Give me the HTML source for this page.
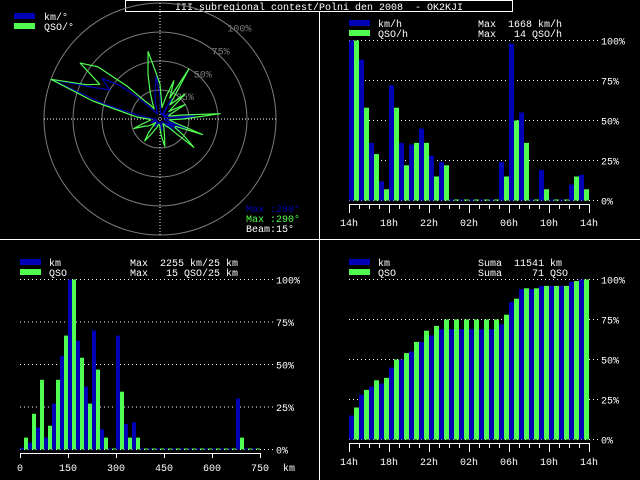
<!DOCTYPE html>
<html><head><meta charset="utf-8"><style>
html,body{margin:0;padding:0;background:#000;}
svg{display:block;font-family:"Liberation Mono",monospace;font-size:10px;}
text{white-space:pre;}
</style></head><body>
<svg id="s" width="640" height="480" viewBox="0 0 640 480">
<rect x="0" y="0" width="640" height="480" fill="#000"/>
<line x1="319.5" y1="11" x2="319.5" y2="480" stroke="#fff"/>
<line x1="0" y1="239.5" x2="640" y2="239.5" stroke="#fff"/>
<rect x="125.5" y="0.5" width="387" height="11" fill="#000" stroke="#fff"/>
<text x="319" y="10" fill="#fff" text-anchor="middle">III.subregional contest/Polni den 2008  - OK2KJI</text>
<g id="polar"></g>
<g id="hourly"></g>
<g id="dist"></g>
<g id="cumul"></g>
</svg>
<script>
const BLUE='#0000b4', GREEN='#50ff50';
// polar data, 5 degree steps, percent of max
const polarKm=[20,5,4,4,5,5,20,5,4,5,4,4,10,4,4,5,8,30,15,5,4,6,24,8,20,6,15,4,3,3,3,4,5,6,10,5,3,3,3,3,4,4,5,8,5,3,3,3,5,6,8,5,3,3,4,8,20,50,100,65,50,61,45,25,12,8,5,5,8,15,25,37];
const polarQso=[30,15,10,20,35,20,50,15,20,30,10,15,25,10,8,10,20,52,20,8,10,15,39,15,15,25,38,10,8,5,5,8,10,15,24,15,8,5,5,5,8,10,15,23,15,8,5,8,12,15,24,15,10,8,10,20,30,60,100,70,60,84,70,40,20,15,10,15,25,40,59,40];
const polarRings=[25,50,75,100];
// hourly
const hourLabels=['14h','18h','22h','02h','06h','10h','14h'];
const hourKm=[100,88,36,12,72,36,35,45,28,24,0,0,0,0,0,24,98,55,0,19,0,0,10,16];
const hourQso=[100,58,29,7,58,22,36,36,15,22,0,0,0,0,0,15,50,36,0,7,0,0,15,7];
// distance
const distLabels=['0','150','300','450','600','750'];
const distKm=[1,4,13,7,27,55,100,64,37,70,12,0,67,15,16,0,0,0,0,0,0,0,0,0,0,0,0,30,0,0];
const distQso=[7,21,41,14,41,67,100,54,27,47,7,0,34,7,7,0,0,0,0,0,0,0,0,0,0,0,0,7,0,0];
// cumulative
const cumKm=[15,28,33,35,45,50,55,61,65,69,69,69,69,69,69,72,86,94,94,96,96,96,98.5,100];
const cumQso=[20,31,37,38.5,50,54,61,68,71,75,75,75,75,75,75,78,88,94.5,94.5,96,96,96,99,100];
const pctLabels=['0%','25%','50%','75%','100%'];

const NS='http://www.w3.org/2000/svg';
function mk(p,tag,at,txt){const e=document.createElementNS(NS,tag);for(const k in at)e.setAttribute(k,at[k]);if(txt!==undefined)e.textContent=txt;p.appendChild(e);return e;}

// ---- polar
(function(){
const g=document.getElementById('polar');const cx=160,cy=119,R=116;
const r=v=>v/100*R;
polarRings.forEach((p,i)=>{const c=mk(g,'circle',{cx:cx,cy:cy,r:r(p),fill:'none',stroke:'#7c7c7c'});


const a=-52*Math.PI/180;const t=mk(g,'text',{x:cx+r(p)*Math.cos(a)+(p==100?-4:-2),y:cy+r(p)*Math.sin(a)+4,fill:'#7c7c7c'},p+'%');

});
const h=mk(g,'line',{x1:44,y1:cy,x2:276,y2:cy,stroke:'#fff','stroke-dasharray':'1,2'});


const v=mk(g,'line',{x1:cx,y1:3,x2:cx,y2:235,stroke:'#fff','stroke-dasharray':'1,2'});


function poly(arr,col,name){const pts=arr.map((val,i)=>{const a=i*5*Math.PI/180;return (cx+r(val)*Math.sin(a)).toFixed(1)+','+(cy-r(val)*Math.cos(a)).toFixed(1);}).join(' ');
const p=mk(g,'polygon',{points:pts,fill:'none',stroke:col,'stroke-width':1.2,'stroke-linejoin':'round'});

}
poly(polarKm,BLUE,'km-per-degree-series');poly(polarQso,GREEN,'qso-per-degree-series');
[[BLUE,'km/°',13],[GREEN,'QSO/°',23]].forEach(([c,t,y])=>{const rr=mk(g,'rect',{x:14,y:y,width:21,height:6,fill:c});


const tt=mk(g,'text',{x:44,y:y+7,fill:'#fff'},t);

});
[[BLUE,'Max :290°',212],[GREEN,'Max :290°',222],['#fff','Beam:15°',232]].forEach(([c,t,y])=>{const tt=mk(g,'text',{x:246,y:y,fill:c},t);

});
})();

// ---- bar chart helper
function barChart(g,o){
const y=v=>o.base-(v/100)*(o.base-o.top);
pctLabels.forEach((l,i)=>{const yy=y(i*25)+0.5;
const ln=mk(g,'line',{x1:o.x0,y1:yy,x2:o.gridEnd,y2:yy,stroke:'#fff','stroke-dasharray':'1,3'});


const t=mk(g,'text',{x:o.gridEnd+3,y:yy+4,fill:'#fff'},l);

});
const n=o.a.length,w=o.slot;
o.a.forEach((v,i)=>{const hh=Math.max(1,(v/100)*(o.base-o.top));
const r=mk(g,'rect',{x:o.x0+i*w,y:o.base-hh+0.5,width:w/2,height:hh,fill:BLUE});

});
o.b.forEach((v,i)=>{const hh=Math.max(1,(v/100)*(o.base-o.top));
const r=mk(g,'rect',{x:o.x0+i*w+w/2,y:o.base-hh+0.5,width:w/2,height:hh,fill:GREEN});

});
const ax=mk(g,'line',{x1:o.x0,y1:o.axisY+0.5,x2:o.x0+n*w,y2:o.axisY+0.5,stroke:'#fff'});


for(let i=0;i<=n;i+=o.minorEvery){const major=i%o.majorEvery===0;const xx=o.x0+i*w+0.5;
const tk=mk(g,'line',{x1:xx,y1:o.axisY,x2:xx,y2:o.axisY+(major?o.majLen:5),stroke:'#fff'});

}
o.labels.forEach((l,i)=>{const xx=o.x0+i*o.majorEvery*w;
const t=mk(g,'text',{x:xx,y:o.axisY+o.labDy,fill:'#fff','text-anchor':'middle'},l);

});
[[BLUE,o.l1,o.r1,o.legY],[GREEN,o.l2,o.r2,o.legY+10]].forEach(([c,t,rt,yy])=>{
const rr=mk(g,'rect',{x:o.x0,y:yy,width:21,height:6,fill:c});


const tt=mk(g,'text',{x:o.x0+29,y:yy+7,fill:'#fff'},t);


const mt=mk(g,'text',{x:o.statX,y:yy+7,fill:'#fff'},rt);

});
}
barChart(document.getElementById('hourly'),{x0:349,slot:10,base:200,top:40,gridEnd:598,axisY:204,minorEvery:1,majorEvery:4,majLen:9,labDy:22,labels:hourLabels,a:hourKm,b:hourQso,legY:20,statX:478,l1:'km/h',l2:'QSO/h',r1:'Max  1668 km/h',r2:'Max   14 QSO/h'});
barChart(document.getElementById('dist'),{x0:20,slot:8,base:449,top:279,gridEnd:273,axisY:453,minorEvery:6,majorEvery:6,majLen:5,labDy:18,labels:distLabels,a:distKm,b:distQso,legY:259,statX:130,l1:'km',l2:'QSO',r1:'Max  2255 km/25 km',r2:'Max   15 QSO/25 km'});
barChart(document.getElementById('cumul'),{x0:349,slot:10,base:439,top:279,gridEnd:598,axisY:443,minorEvery:1,majorEvery:4,majLen:9,labDy:22,labels:hourLabels,a:cumKm,b:cumQso,legY:259,statX:478,l1:'km',l2:'QSO',r1:'Suma  11541 km',r2:'Suma     71 QSO'});
(function(){const t=mk(document.getElementById('dist'),'text',{x:283,y:471,fill:'#fff'},'km');

})();
</script>
</body></html>
